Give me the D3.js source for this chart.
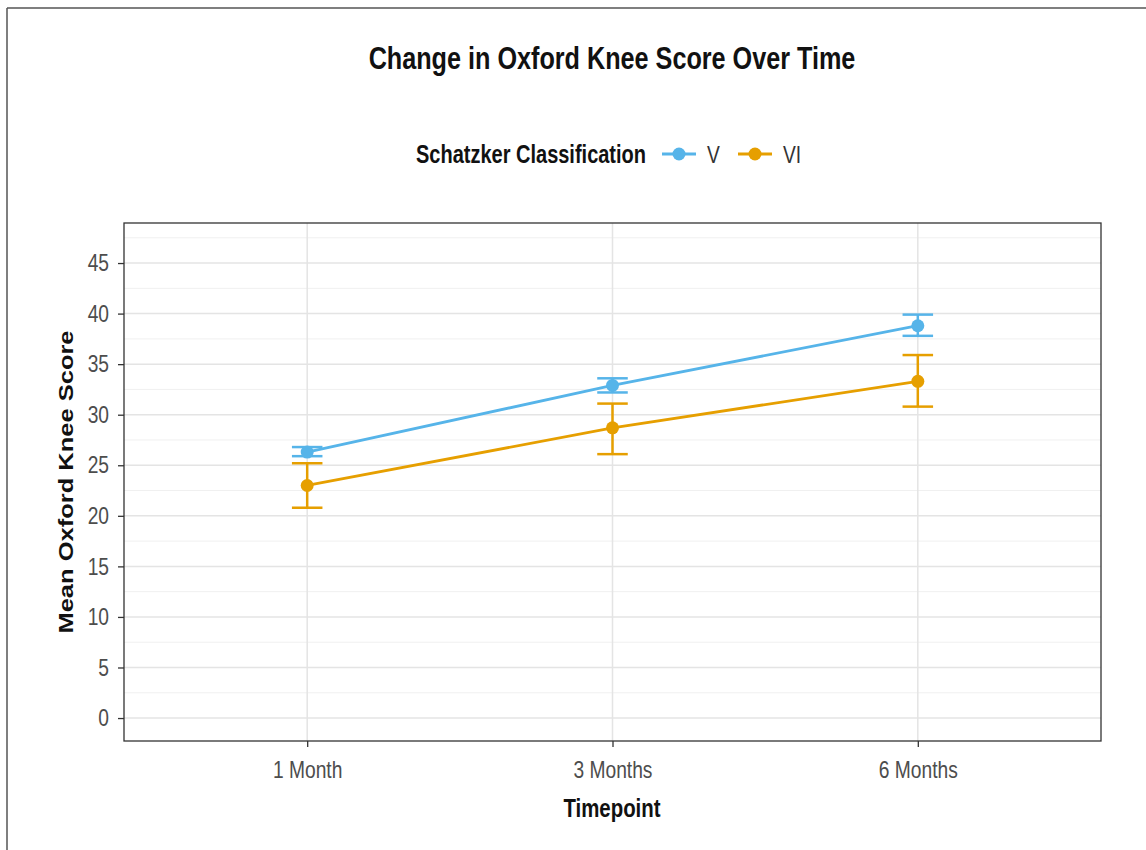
<!DOCTYPE html>
<html>
<head>
<meta charset="utf-8">
<script src="https://cdn.jsdelivr.net/npm/d3@7.9.0/dist/d3.min.js"></script>
<style>
  body { margin: 0; background: #fff; }
  svg { display: block; }
</style>
</head>
<body>
<svg id="chart" width="1146" height="850"></svg>
<script>
// === Data ===
const timepoints = ['1 Month', '3 Months', '6 Months'];
const groups = ['V', 'VI'];
const meanV = [26.3, 32.9, 38.8];
const lowV = [25.9, 32.2, 37.8];
const highV = [26.8, 33.6, 39.9];
const meanVI = [23.0, 28.7, 33.3];
const lowVI = [20.8, 26.1, 30.8];
const highVI = [25.2, 31.1, 35.9];
const yTicks = [0, 5, 10, 15, 20, 25, 30, 35, 40, 45];

const colors = { V: '#56B4E9', VI: '#E69F00' };
const series = [
  { key: 'V', mean: meanV, low: lowV, high: highV },
  { key: 'VI', mean: meanVI, low: lowVI, high: highVI },
];

// the source picture is squeezed sideways, so text gets a horizontal squeeze too
const squeeze = 0.8;
const font = '"Liberation Sans", Arial, sans-serif';
const svg = d3.select('#chart');

function label(x, y, txt, size, opts = {}) {
  return svg.append('text')
    .attr('transform', `translate(${x},${y}) scale(${squeeze},1)`)
    .attr('text-anchor', opts.anchor || 'middle')
    .style('font-family', font)
    .style('font-weight', opts.bold ? 'bold' : 'normal')
    .style('font-size', `${size}px`)
    .attr('fill', opts.fill || '#111')
    .text(txt);
}

// outer border (top/left edge of the original image)
svg.append('line').attr('x1', 7).attr('x2', 1146).attr('y1', 8).attr('y2', 8)
  .attr('stroke', '#555').attr('stroke-width', 1.5);
svg.append('line').attr('x1', 7).attr('x2', 7).attr('y1', 8).attr('y2', 850)
  .attr('stroke', '#555').attr('stroke-width', 1.5);

// === Scales ===
const panel = { left: 124, right: 1101, top: 223, bottom: 741 };
const x = d3.scalePoint().domain(timepoints).range([panel.left, panel.right]).padding(0.6);
const y = d3.scaleLinear().domain([-2.27, 48.96]).range([panel.bottom, panel.top]);

// === Grid ===
const minor = d3.range(2.5, 48, 5);
svg.append('g').selectAll('line').data(minor).join('line')
  .attr('x1', panel.left).attr('x2', panel.right)
  .attr('y1', (d) => y(d)).attr('y2', (d) => y(d))
  .attr('stroke', '#f0f0f0').attr('stroke-width', 1);
svg.append('g').selectAll('line').data(yTicks).join('line')
  .attr('x1', panel.left).attr('x2', panel.right)
  .attr('y1', (d) => y(d)).attr('y2', (d) => y(d))
  .attr('stroke', '#e4e4e4').attr('stroke-width', 1.5);
svg.append('g').selectAll('line').data(timepoints).join('line')
  .attr('x1', (d) => x(d)).attr('x2', (d) => x(d))
  .attr('y1', panel.top).attr('y2', panel.bottom)
  .attr('stroke', '#e4e4e4').attr('stroke-width', 1.5);

// === Axes ===
const yAxis = svg.append('g')
  .attr('transform', `translate(${panel.left},0)`)
  .call(d3.axisLeft(y).tickValues(yTicks).tickSize(6).tickPadding(9));
const xAxis = svg.append('g')
  .attr('transform', `translate(0,${panel.bottom})`)
  .call(d3.axisBottom(x).tickSize(6).tickPadding(14));
[yAxis, xAxis].forEach((g) => {
  g.select('.domain').remove();
  g.selectAll('line').attr('stroke', '#333').attr('stroke-width', 1.3);
  g.selectAll('text').attr('fill', '#4d4d4d')
    .style('font-family', font).style('font-size', '24px');
});
// squeeze tick labels around their anchor
yAxis.selectAll('.tick text')
  .attr('x', -15 / squeeze)
  .attr('transform', `scale(${squeeze},1)`);
xAxis.selectAll('.tick text')
  .attr('transform', `scale(${squeeze},1)`);

// panel border
svg.append('rect')
  .attr('x', panel.left).attr('y', panel.top)
  .attr('width', panel.right - panel.left).attr('height', panel.bottom - panel.top)
  .attr('fill', 'none').attr('stroke', '#333').attr('stroke-width', 1.3);

// === Series ===
const line = d3.line().x((d) => x(d.t)).y((d) => y(d.v));
const capHalf = (x.step() * 0.1) / 2;

series.forEach((s) => {
  const pts = timepoints.map((t, i) => ({ t, v: s.mean[i], lo: s.low[i], hi: s.high[i] }));
  const g = svg.append('g');
  g.append('path').datum(pts).attr('d', line)
    .attr('fill', 'none').attr('stroke', colors[s.key]).attr('stroke-width', 2.8);
  pts.forEach((p) => {
    const cx = x(p.t);
    g.append('line').attr('x1', cx).attr('x2', cx).attr('y1', y(p.lo)).attr('y2', y(p.hi))
      .attr('stroke', colors[s.key]).attr('stroke-width', 2.5);
    [p.lo, p.hi].forEach((v) => {
      g.append('line').attr('x1', cx - capHalf).attr('x2', cx + capHalf)
        .attr('y1', y(v)).attr('y2', y(v))
        .attr('stroke', colors[s.key]).attr('stroke-width', 2.5);
    });
    g.append('circle').attr('cx', cx).attr('cy', y(p.v)).attr('r', 6.5)
      .attr('fill', colors[s.key]);
  });
});

// === Titles ===
label(612, 69, 'Change in Oxford Knee Score Over Time', 31.5, { bold: true });
label(612, 817, 'Timepoint', 25.5, { bold: true });

svg.append('text')
  .attr('transform', `translate(73,482) scale(${squeeze},1) rotate(-90)`)
  .attr('text-anchor', 'middle')
  .style('font-family', font).style('font-weight', 'bold')
  .style('font-size', '25.5px').attr('fill', '#111').text('Mean Oxford Knee Score');

// === Legend ===
label(646, 163, 'Schatzker Classification', 25, { bold: true, anchor: 'end' });
const keyX = { V: 679, VI: 755 };
groups.forEach((k) => {
  const cx = keyX[k];
  svg.append('line').attr('x1', cx - 17).attr('x2', cx + 17).attr('y1', 154).attr('y2', 154)
    .attr('stroke', colors[k]).attr('stroke-width', 2.8);
  svg.append('circle').attr('cx', cx).attr('cy', 154).attr('r', 6.5).attr('fill', colors[k]);
  label(cx + 28, 163, k, 24, { anchor: 'start', fill: '#333' });
});
</script>
</body>
</html>
